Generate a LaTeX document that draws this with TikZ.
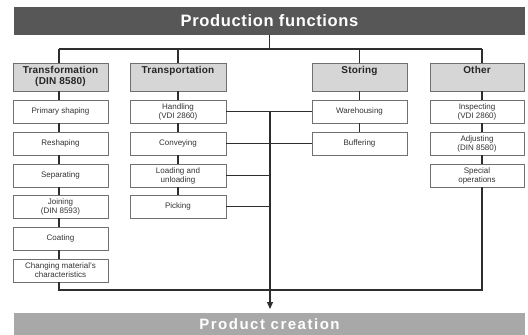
\documentclass[tikz,border=0pt]{standalone}
\usepackage{fontspec}
\setmainfont{Liberation Sans}
\usetikzlibrary{arrows.meta}
\definecolor{barA}{HTML}{575757}
\definecolor{barB}{HTML}{A8A8A8}
\definecolor{hdrfill}{HTML}{D6D6D6}
\definecolor{boxline}{HTML}{707070}
\definecolor{conn}{HTML}{2E2E2E}
\definecolor{txt}{HTML}{333333}
\tikzset{
  bar/.style={rectangle, draw=none, text=white, inner sep=0pt},
  hdr/.style={rectangle, draw=boxline, line width=0.9pt, fill=hdrfill, minimum height=28pt, inner sep=0pt},
  hdrtext/.style={anchor=north, align=center, text=black!85, font=\bfseries\fontsize{10}{11.5}\selectfont\addfontfeature{LetterSpace=2}, inner sep=0pt, yshift=-3.5pt},
  item/.style={rectangle, draw=boxline, line width=0.9pt, fill=white, minimum height=23pt, align=center, text=txt, font=\fontsize{8}{9}\selectfont, inner sep=0pt},
  link/.style={draw=conn, line width=1.2pt},
  w1/.style={minimum width=95pt},
  w2/.style={minimum width=96pt},
  w3/.style={minimum width=95pt},
  w4/.style={minimum width=94pt}
}
\begin{document}
\begin{tikzpicture}[x=1pt,y=-1pt]
\useasboundingbox[fill=white] (0,0) rectangle (528,335);
% bars
\node[bar, fill=barA, minimum width=511pt, minimum height=28pt, font=\bfseries\fontsize{16.5}{18}\selectfont\addfontfeature{LetterSpace=4}] (pf) at (269.5,21) {Production functions};
\node[bar, fill=barB, minimum width=511pt, minimum height=23pt, font=\bfseries\fontsize{15}{17}\selectfont\addfontfeature{LetterSpace=10}] (pc) at (269.5,324) {Product creation};
% headers
\node[hdr, w1, label={[hdrtext]north:Transformation\\(DIN 8580)}] (h1) at (60.5,77) {};
\node[hdr, w2, label={[hdrtext]north:Transportation}] (h2) at (178,77) {};
\node[hdr, w3, label={[hdrtext]north:Storing}] (h3) at (359.5,77) {};
\node[hdr, w4, label={[hdrtext]north:Other}] (h4) at (477,77) {};
% column 1
\node[item, w1] (a1) at (60.5,111.5) {Primary shaping};
\node[item, w1] (a2) at (60.5,143.5) {Reshaping};
\node[item, w1] (a3) at (60.5,175.5) {Separating};
\node[item, w1] (a4) at (60.5,206.5) {Joining\\(DIN 8593)};
\node[item, w1] (a5) at (60.5,238.5) {Coating};
\node[item, w1] (a6) at (60.5,270.5) {Changing material's\\characteristics};
% column 2
\node[item, w2] (b1) at (178,111.5) {Handling\\(VDI 2860)};
\node[item, w2] (b2) at (178,143.5) {Conveying};
\node[item, w2] (b3) at (178,175.5) {Loading and\\unloading};
\node[item, w2] (b4) at (178,206.5) {Picking};
% column 3
\node[item, w3] (c1) at (359.5,111.5) {Warehousing};
\node[item, w3] (c2) at (359.5,143.5) {Buffering};
% column 4
\node[item, w4] (d1) at (477,111.5) {Inspecting\\(VDI 2860)};
\node[item, w4] (d2) at (477,143.5) {Adjusting\\(DIN 8580)};
\node[item, w4] (d3) at (477,175.5) {Special\\operations};
% coordinates
\coordinate (tl) at (59,49);
\coordinate (tr) at (482,49);
\coordinate (bl) at (59,290);
\coordinate (br) at (482,290);
\coordinate (m1) at (270,111.5);
\coordinate (m3) at (270,175.5);
\coordinate (m4) at (270,206.5);
% top tree
\draw[link] (pf.south) -- (pf.south |- tl);
\draw[link] (tl) -- (tr);
\draw[link] (tl) -- (tl |- h1.north);
\draw[link] (h2.north |- tl) -- (h2.north);
\draw[link] (h3.north |- tl) -- (h3.north);
\draw[link] (tr) -- (tr |- h4.north);
% column chains
\draw[link] (tl |- h1.south) -- (tl |- a1.north);
\draw[link] (tl |- a1.south) -- (tl |- a2.north);
\draw[link] (tl |- a2.south) -- (tl |- a3.north);
\draw[link] (tl |- a3.south) -- (tl |- a4.north);
\draw[link] (tl |- a4.south) -- (tl |- a5.north);
\draw[link] (tl |- a5.south) -- (tl |- a6.north);
\draw[link] (h2.south) -- (b1.north);
\draw[link] (b1.south) -- (b2.north);
\draw[link] (b2.south) -- (b3.north);
\draw[link] (b3.south) -- (b4.north);
\draw[link] (h3.south) -- (c1.north);
\draw[link] (c1.south) -- (c2.north);
\draw[link] (tr |- h4.south) -- (tr |- d1.north);
\draw[link] (tr |- d1.south) -- (tr |- d2.north);
\draw[link] (tr |- d2.south) -- (tr |- d3.north);
% cross links
\draw[link] (b1.east) -- (c1.west);
\draw[link] (b2.east) -- (c2.west);
\draw[link] (b3.east) -- (m3);
\draw[link] (b4.east) -- (m4);
% bottom collection
\draw[link] (tl |- a6.south) -- (bl) -- (br) -- (tr |- d3.south);
\draw[link, -{Triangle[length=7pt,width=6pt]}] (m1) -- (m1 |- 0,309);
\end{tikzpicture}
\end{document}
